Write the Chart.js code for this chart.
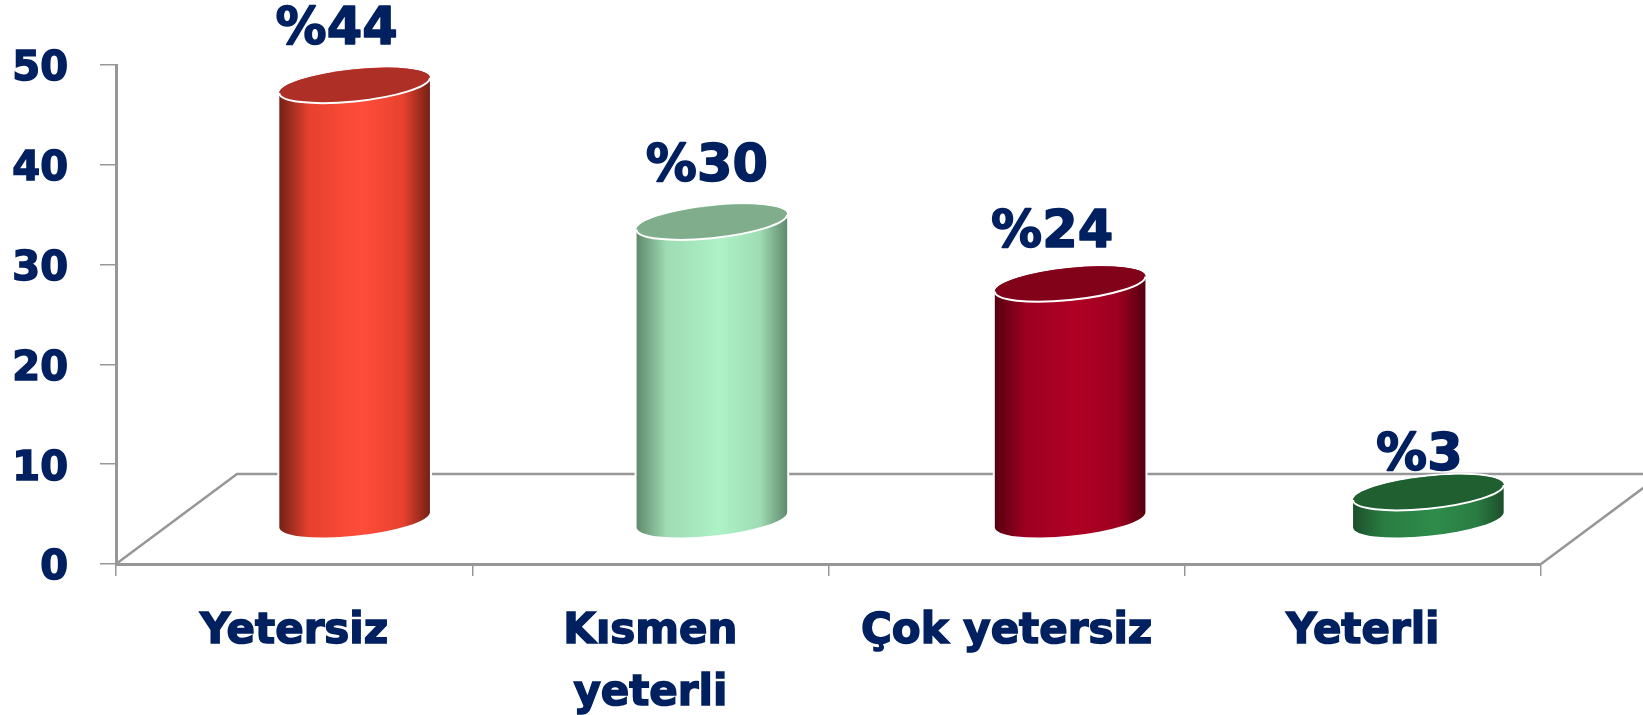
<!DOCTYPE html>
<html lang="tr">
<head>
    <meta charset="UTF-8">
    <title>Yeterlilik</title>
    <script src="https://cdn.jsdelivr.net/npm/chart.js"></script>
    <style>
        * { margin: 0; padding: 0; }
        body { background: white; width: 1643px; height: 715px; overflow: hidden; }
        #wrap { position: relative; width: 1643px; height: 715px; }
    </style>
</head>
<body>
    <div id="wrap"><canvas id="chart"></canvas></div>

    <script>
        const categories = [['Yetersiz'], ['Kısmen', 'yeterli'], ['Çok yetersiz'], ['Yeterli']];
        const values = [43.6, 29.9, 23.7, 2.8];
        const valueLabels = ['%44', '%30', '%24', '%3'];
        const yTicks = [0, 10, 20, 30, 40, 50];

        // cylinder colours: edge, mid, highlight, top face
        const sideEdge = ['#742016', '#5f8a6c', '#560010', '#1c4f2a'];
        const sideMid = ['#e8412f', '#9fdcb4', '#9c0020', '#2a7c42'];
        const sideLight = ['#ff4d3a', '#aef2c6', '#b00024', '#2e8c4a'];
        const topFace = ['#ad2f26', '#80ae8c', '#82021a', '#1f5f30'];

        const navy = '#002060';
        const grey = '#979797';
        const depthX = 121, depthY = 90;
        const tilt = -6 * Math.PI / 180;
        const ellipseB = 16;
        // the cylinders and labels do not sit quite centred in the original
        const barNudgeX = [0, 1, 3, 5];
        const barNudgeY = 1.5;
        const labelShiftX = [-18, -5, -18, -9];
        const labelLift = [55, 54, 50, 36];

        function gradientFor(ctx, left, right, i) {
            const g = ctx.createLinearGradient(left, 0, right, 0);
            g.addColorStop(0, sideEdge[i]);
            g.addColorStop(0.2, sideMid[i]);
            g.addColorStop(0.55, sideLight[i]);
            g.addColorStop(0.82, sideMid[i]);
            g.addColorStop(1, sideEdge[i]);
            return g;
        }

        const floorPlugin = {
            id: 'floor',
            beforeDatasetsDraw(chart) {
                const { ctx, chartArea: a } = chart;
                ctx.save();
                ctx.strokeStyle = grey;
                ctx.lineWidth = 2.5;
                ctx.beginPath();
                ctx.moveTo(a.left, a.bottom);
                ctx.lineTo(a.left + depthX, a.bottom - depthY);
                ctx.lineTo(a.right + depthX, a.bottom - depthY);
                ctx.lineTo(a.right, a.bottom);
                ctx.stroke();
                ctx.restore();
            }
        };

        const cylinderPlugin = {
            id: 'cylinders',
            afterDatasetsDraw(chart) {
                const ctx = chart.ctx;
                const bars = chart.getDatasetMeta(0).data;
                bars.forEach((bar, i) => {
                    const a = bar.width / 2;
                    const cx = bar.x + depthX / 2 + barNudgeX[i];
                    const topY = bar.y - depthY / 2 + barNudgeY;
                    const baseY = bar.base - depthY / 2 + barNudgeY;
                    const t0 = Math.atan(-(ellipseB / a) * Math.tan(tilt));
                    const ex = a * Math.cos(t0) * Math.cos(tilt) - ellipseB * Math.sin(t0) * Math.sin(tilt);

                    ctx.save();
                    ctx.beginPath();
                    ctx.ellipse(cx, baseY, a, ellipseB, tilt, t0, t0 + Math.PI);
                    ctx.ellipse(cx, topY, a, ellipseB, tilt, t0 + Math.PI, t0 + 2 * Math.PI);
                    ctx.closePath();
                    ctx.strokeStyle = 'white';
                    ctx.lineWidth = 4;
                    ctx.stroke();
                    ctx.fillStyle = gradientFor(ctx, cx - ex, cx + ex, i);
                    ctx.fill();

                    ctx.beginPath();
                    ctx.ellipse(cx, topY, a, ellipseB, tilt, 0, 2 * Math.PI);
                    ctx.fillStyle = topFace[i];
                    ctx.fill();

                    // white rim along the front of the top
                    ctx.beginPath();
                    ctx.ellipse(cx, topY, a, ellipseB, tilt, t0, t0 + Math.PI);
                    ctx.strokeStyle = 'white';
                    ctx.lineWidth = 2;
                    ctx.stroke();

                    ctx.fillStyle = navy;
                    ctx.strokeStyle = navy;
                    ctx.lineWidth = 1.5;
                    ctx.lineJoin = 'round';
                    ctx.font = 'bold 51px "DejaVu Sans"';
                    ctx.textAlign = 'center';
                    ctx.textBaseline = 'middle';
                    ctx.fillText(valueLabels[i], cx + labelShiftX[i], topY - labelLift[i]);
                    ctx.strokeText(valueLabels[i], cx + labelShiftX[i], topY - labelLift[i]);
                    ctx.restore();
                });
            }
        };

        new Chart(document.getElementById('chart'), {
            type: 'bar',
            data: {
                labels: categories,
                datasets: [{
                    data: values,
                    backgroundColor: 'transparent',
                    borderWidth: 0,
                    barPercentage: 0.425,
                    categoryPercentage: 1
                }]
            },
            plugins: [floorPlugin, cylinderPlugin],
            options: {
                responsive: true,
                maintainAspectRatio: false,
                animation: false,
                layout: { padding: { top: 65, right: 102, left: 0, bottom: 0 } },
                plugins: { legend: { display: false }, tooltip: { enabled: false } },
                scales: {
                    x: {
                        afterFit(scale) { scale.height = 151; },
                        grid: { offset: true, drawOnChartArea: false, color: grey, tickLength: 12, lineWidth: 1.5 },
                        border: { color: grey, width: 3 },
                        ticks: {
                            color: navy,
                            font: { family: '"DejaVu Sans"', size: 42, weight: 'bold', lineHeight: 1.47 },
                            textStrokeColor: navy,
                            textStrokeWidth: 1.5,
                            autoSkip: false,
                            maxRotation: 0,
                            padding: 25
                        }
                    },
                    y: {
                        min: 0,
                        max: 50,
                        afterFit(scale) { scale.width = 116; },
                        afterBuildTicks(scale) { scale.ticks = yTicks.map(v => ({ value: v })); },
                        grid: { drawOnChartArea: false, color: grey, tickLength: 16, lineWidth: 1.5 },
                        border: { color: grey, width: 3 },
                        ticks: {
                            color: navy,
                            font: { family: '"DejaVu Sans"', size: 40, weight: 'bold' },
                            textStrokeColor: navy,
                            textStrokeWidth: 1.5,
                            labelOffset: 5,
                            padding: 32
                        }
                    }
                }
            }
        });
    </script>
</body>
</html>
